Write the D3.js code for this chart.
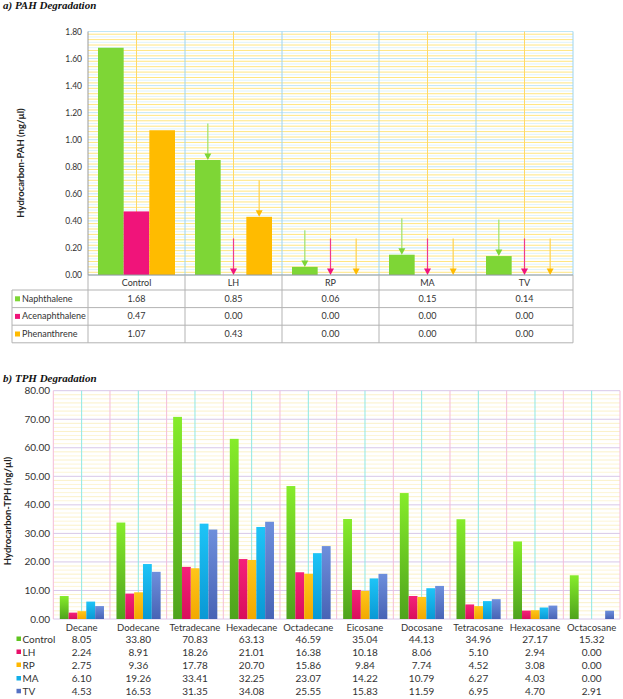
<!DOCTYPE html>
<html><head><meta charset="utf-8">
<script src="https://cdn.jsdelivr.net/npm/d3@7"></script>
<style>body{margin:0;background:#fff}svg{display:block}</style>
</head><body>
<svg id="c" width="623" height="699"></svg>
<script>
// ---------- data: PAH ----------
const pahCategories = ["Control","LH","RP","MA","TV"];
const pahSeries = ["Naphthalene","Acenaphthalene","Phenanthrene"];
const naphthalene = [1.68,0.85,0.06,0.15,0.14];
const acenaphthalene = [0.47,0.00,0.00,0.00,0.00];
const phenanthrene = [1.07,0.43,0.00,0.00,0.00];
const pahTicks = [0,0.2,0.4,0.6,0.8,1.0,1.2,1.4,1.6,1.8];
// ---------- data: TPH ----------
const tphCategories = ["Decane","Dodecane","Tetradecane","Hexadecane","Octadecane","Eicosane","Docosane","Tetracosane","Hexacosane","Octacosane"];
const tphSeries = ["Control","LH","RP","MA","TV"];
const tphControl = [8.05,33.80,70.83,63.13,46.59,35.04,44.13,34.96,27.17,15.32];
const tphLH = [2.24,8.91,18.26,21.01,16.38,10.18,8.06,5.10,2.94,0.00];
const tphRP = [2.75,9.36,17.78,20.70,15.86,9.84,7.74,4.52,3.08,0.00];
const tphMA = [6.10,19.26,33.41,32.25,23.07,14.22,10.79,6.27,4.03,0.00];
const tphTV = [4.53,16.53,31.35,34.08,25.55,15.83,11.59,6.95,4.70,2.91];
const tphTicks = [0,10,20,30,40,50,60,70,80];

const svg = d3.select("#c");
const FONT = "Lato, 'Open Sans', sans-serif";

// ================= Chart A =================
(function(){
  const L=88,R=573,T=31.5,B=275;
  const values=[naphthalene,acenaphthalene,phenanthrene];
  const colors=["#7ed636","#f0147a","#ffbb00"];
  const lineColors=["#9ee06a","#f03a8a","#ffd24d"];
  const x0=d3.scaleBand().domain(pahCategories).range([L,R]);
  const bw=x0.bandwidth();
  const x1=d3.scaleBand().domain(pahSeries).range([10,bw-10]);
  const y=d3.scaleLinear().domain([0,1.8]).range([B,T]);
  const g=svg.append("g");
  // horizontal grid
  const minor=d3.range(0,1.8001,0.02);
  g.selectAll("line.hg").data(minor).join("line")
    .attr("x1",L).attr("x2",R).attr("y1",d=>y(d)).attr("y2",d=>y(d))
    .attr("stroke",(d,i)=>i%10===0?"#bfe6f7":(i%2?"#ffe680":"#dff3fb")).attr("stroke-width",1);
  // vertical grid
  g.selectAll("line.vc").data(pahCategories).join("line")
    .attr("x1",d=>x0(d)+bw/2).attr("x2",d=>x0(d)+bw/2).attr("y1",T).attr("y2",B)
    .attr("stroke","#ffd966").attr("stroke-width",1);
  g.selectAll("line.vb").data(pahCategories.slice(1).concat(["_end"])).join("line")
    .attr("x1",(d,i)=>L+bw*(i+1)).attr("x2",(d,i)=>L+bw*(i+1)).attr("y1",T).attr("y2",B)
    .attr("stroke","#9dd4f0").attr("stroke-width",1);
  // bars
  pahSeries.forEach((s,si)=>{
    g.selectAll("rect.b"+si).data(values[si]).join("rect")
      .attr("x",(d,i)=>x0(pahCategories[i])+x1(s)).attr("width",x1.bandwidth())
      .attr("y",d=>y(d)).attr("height",d=>B-y(d)).attr("fill",colors[si]);
  });
  // arrows (all non-control)
  const arrowLen=0.27;
  pahSeries.forEach((s,si)=>{
    values[si].forEach((v,i)=>{
      if(i===0) return;
      const cx=x0(pahCategories[i])+x1(s)+x1.bandwidth()/2;
      const yt=y(v), ys=y(v+arrowLen);
      g.append("line").attr("x1",cx).attr("x2",cx).attr("y1",ys).attr("y2",yt-5)
        .attr("stroke",lineColors[si]).attr("stroke-width",1.2);
      g.append("path").attr("d",`M${cx-3.5},${yt-6.5}L${cx+3.5},${yt-6.5}L${cx},${yt}Z`).attr("fill",colors[si]);
    });
  });
  // axis line
  g.append("line").attr("x1",L).attr("x2",L).attr("y1",T).attr("y2",B).attr("stroke","#999");
  // ticks
  g.selectAll("text.t").data(pahTicks).join("text")
    .attr("x",82).attr("y",d=>y(d)+3).attr("text-anchor","end")
    .attr("font-family",FONT).attr("font-size",8.5).attr("fill","#333").text(d=>d.toFixed(2));
  // y label
  g.append("text").attr("transform","translate(24,163) rotate(-90)").attr("text-anchor","middle")
    .attr("font-family",FONT).attr("font-weight","bold").attr("font-size",9.5).attr("fill","#222")
    .text("Hydrocarbon-PAH (ng/µl)");
  // table
  const tL=12, hTop=B, hBot=290, rh=17.6;
  const stroke="#b3b3b3";
  // header row
  g.append("line").attr("x1",L).attr("x2",R).attr("y1",B).attr("y2",B).attr("stroke","#999");
  pahCategories.forEach((c,i)=>{
    g.append("text").attr("x",x0(c)+bw/2).attr("y",hBot-4.5).attr("text-anchor","middle")
      .attr("font-family",FONT).attr("font-size",9).attr("fill","#333").text(c);
  });
  const tBot=hBot+rh*3;
  for(let r=0;r<=3;r++){
    g.append("line").attr("x1",tL).attr("x2",R).attr("y1",hBot+rh*r).attr("y2",hBot+rh*r).attr("stroke",stroke);
  }
  g.append("line").attr("x1",tL).attr("x2",tL).attr("y1",hBot).attr("y2",tBot).attr("stroke",stroke);
  for(let i=0;i<=pahCategories.length;i++){
    g.append("line").attr("x1",L+bw*i).attr("x2",L+bw*i).attr("y1",B).attr("y2",tBot).attr("stroke",stroke);
  }
  pahSeries.forEach((s,si)=>{
    const cy=hBot+rh*si+rh/2;
    g.append("rect").attr("x",15).attr("y",cy-2.5).attr("width",5).attr("height",5).attr("fill",colors[si]);
    g.append("text").attr("x",22).attr("y",cy+3).attr("font-family",FONT).attr("font-size",9).attr("fill","#333").text(s);
    values[si].forEach((v,i)=>{
      g.append("text").attr("x",x0(pahCategories[i])+bw/2).attr("y",cy+3).attr("text-anchor","middle")
        .attr("font-family",FONT).attr("font-size",9).attr("fill","#333").text(v.toFixed(2));
    });
  });
  // title
  svg.append("text").attr("x",3).attr("y",9).attr("font-family","'Liberation Serif', serif")
    .attr("font-weight","bold").attr("font-style","italic").attr("font-size",11).attr("fill","#111")
    .text("a) PAH Degradation");
})();

// ================= Chart B =================
(function(){
  const L=53.3,R=620,T=390.7,B=619;
  const values=[tphControl,tphLH,tphRP,tphMA,tphTV];
  const grads=[["#86ec2a","#4ea31d"],["#f5207a","#d80f5c"],["#ffc61a","#f2a800"],["#1ec4f7","#0a98d4"],["#6e8fdc","#4863b5"]];
  const legendCols=["#5fc41f","#e8106a","#ffb800","#12aee8","#5572c4"];
  const defs=svg.append("defs");
  grads.forEach((c,i)=>{
    const lg=defs.append("linearGradient").attr("id","g"+i).attr("x1",0).attr("x2",0).attr("y1",0).attr("y2",1);
    lg.append("stop").attr("offset","0%").attr("stop-color",c[0]);
    lg.append("stop").attr("offset","100%").attr("stop-color",c[1]);
  });
  const x0=d3.scaleBand().domain(tphCategories).range([L,R]);
  const bw=x0.bandwidth();
  const x1=d3.scaleBand().domain(tphSeries).range([6.5,bw-6]);
  const y=d3.scaleLinear().domain([0,80]).range([B,T]);
  const g=svg.append("g");
  // minor grid
  const minor=[];
  for(let m=0;m<80;m+=10){ for(let k=1;k<7;k++) minor.push(m+k*10/7); }
  g.selectAll("line.mg").data(minor).join("line")
    .attr("x1",L).attr("x2",R).attr("y1",d=>y(d)).attr("y2",d=>y(d))
    .attr("stroke",(d,i)=>i%2?"#fbf1c8":"#fdf5d6").attr("stroke-width",1);
  g.selectAll("line.Mg").data(tphTicks).join("line")
    .attr("x1",L).attr("x2",R).attr("y1",d=>y(d)).attr("y2",d=>y(d))
    .attr("stroke","#d8c8e8").attr("stroke-width",1);
  // vertical
  g.selectAll("line.vc").data(tphCategories).join("line")
    .attr("x1",d=>x0(d)+bw/2).attr("x2",d=>x0(d)+bw/2).attr("y1",T).attr("y2",B)
    .attr("stroke","#8ee8e4").attr("stroke-width",1);
  g.selectAll("line.vb").data(d3.range(0,tphCategories.length+1)).join("line")
    .attr("x1",i=>L+bw*i).attr("x2",i=>L+bw*i).attr("y1",T).attr("y2",B)
    .attr("stroke","#f4bcd8").attr("stroke-width",1);
  // bars
  tphSeries.forEach((s,si)=>{
    g.selectAll("rect.b"+si).data(values[si]).join("rect")
      .attr("x",(d,i)=>x0(tphCategories[i])+x1(s)).attr("width",x1.bandwidth())
      .attr("y",d=>y(d)).attr("height",d=>B-y(d)).attr("fill","url(#g"+si+")");
  });
  // ticks
  g.selectAll("text.t").data(tphTicks).join("text")
    .attr("x",50).attr("y",d=>y(d)+3.5).attr("text-anchor","end")
    .attr("font-family",FONT).attr("font-size",10).attr("fill","#333").text(d=>d.toFixed(2));
  // y label
  g.append("text").attr("transform","translate(11,511) rotate(-90)").attr("text-anchor","middle")
    .attr("font-family",FONT).attr("font-weight","bold").attr("font-size",9.5).attr("fill","#222")
    .text("Hydrocarbon-TPH (ng/µl)");
  // table
  tphCategories.forEach((c,i)=>{
    g.append("text").attr("x",x0(c)+bw/2).attr("y",630.5).attr("text-anchor","middle")
      .attr("font-family",FONT).attr("font-size",9.5).attr("fill","#333").text(c);
  });
  const rowY=[639,652,665,678.5,691.3];
  tphSeries.forEach((s,si)=>{
    const cy=rowY[si];
    g.append("rect").attr("x",16.5).attr("y",cy-2.5).attr("width",4.5).attr("height",4.5).attr("fill",legendCols[si]);
    g.append("text").attr("x",22.5).attr("y",cy+3.5).attr("font-family",FONT).attr("font-size",10).attr("fill","#333").text(s);
    values[si].forEach((v,i)=>{
      g.append("text").attr("x",x0(tphCategories[i])+bw/2).attr("y",cy+3.5).attr("text-anchor","middle")
        .attr("font-family",FONT).attr("font-size",10).attr("fill","#333").text(v.toFixed(2));
    });
  });
  // title
  svg.append("text").attr("x",3).attr("y",382).attr("font-family","'Liberation Serif', serif")
    .attr("font-weight","bold").attr("font-style","italic").attr("font-size",11).attr("fill","#111")
    .text("b) TPH Degradation");
})();
</script>
</body></html>
